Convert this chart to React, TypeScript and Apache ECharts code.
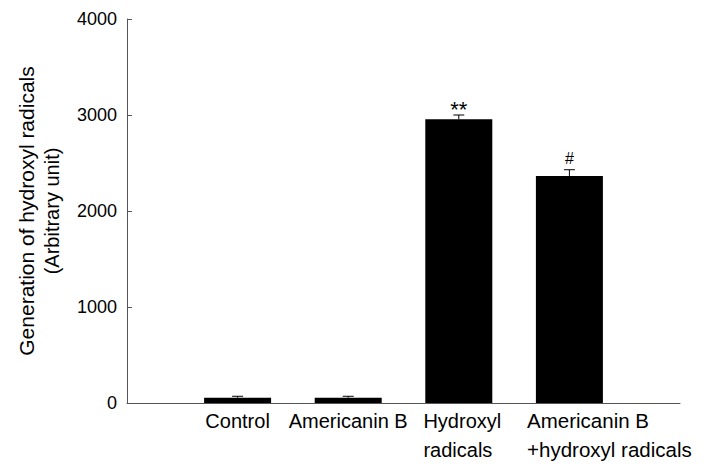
import React, { useEffect, useRef } from 'react';
import * as echarts from 'echarts';

const categories = ['', 'Control', 'Americanin B', 'Hydroxyl\nradicals', 'Americanin B\n+hydroxyl radicals', ''];
const means: (number | null)[] = [null, 55, 55, 2955, 2365, null];
const errors: (number | null)[] = [null, 15, 15, 45, 65, null];
const marks = ['', '', '', '**', '#', ''];
const yMin = 0;
const yMax = 4000;
const yInterval = 1000;
const yTitleLines = ['Generation of hydroxyl radicals', '(Arbitrary unit)'];

const FONT = "'Liberation Sans', Arial, Helvetica, sans-serif";

export default function App() {
  const ref = useRef<HTMLDivElement>(null);
  useEffect(() => {
    if (!ref.current) return;
    const chart = echarts.init(ref.current, undefined, { renderer: 'svg' });
    const barData = means.map((m) => (m == null ? '-' : m));
    const errData = means
      .map((m, i) => (m == null ? null : [i, m, errors[i] ?? 0]))
      .filter((d) => d !== null);
    const labelBase = { fontSize: 20, lineHeight: 29, fontFamily: FONT, color: '#000' };
    chart.setOption({
      animation: false,
      backgroundColor: '#fff',
      grid: { left: 127, right: 24, top: 19, bottom: 59 },
      xAxis: {
        type: 'category',
        data: categories,
        boundaryGap: false,
        axisLine: { lineStyle: { color: '#555', width: 1 } },
        axisTick: { show: false },
        axisLabel: {
          interval: 0,
          margin: 3,
          ...labelBase,
          formatter: (v: string, idx: number) => {
            if (!v.includes('\n')) return v;
            return v
              .split('\n')
              .map((s) => `{m${idx}|${s}}`)
              .join('\n');
          },
          rich: {
            m3: { ...labelBase, align: 'left', padding: [0, 0, 0, 7] },
            m4: { ...labelBase, fontSize: 20.5, align: 'left', padding: [0, 0, 0, 80] },
          },
        },
      },
      yAxis: {
        type: 'value',
        min: yMin,
        max: yMax,
        interval: yInterval,
        splitLine: { show: false },
        axisLine: { show: true, lineStyle: { color: '#555', width: 1 } },
        axisTick: { show: true, inside: true, length: 5, lineStyle: { color: '#555' } },
        axisLabel: {
          fontSize: 18,
          fontFamily: FONT,
          color: '#000',
          margin: 10,
          formatter: (v: number) => String(v),
        },
        name: `{a|${yTitleLines[0]}}\n{b|${yTitleLines[1]}}`,
        nameLocation: 'middle',
        nameRotate: 90,
        nameGap: 63,
        nameTextStyle: {
          fontSize: 20,
          lineHeight: 25,
          fontFamily: FONT,
          color: '#000',
          rich: {
            a: { fontSize: 21, lineHeight: 25, fontFamily: FONT, color: '#000' },
            b: { fontSize: 20, lineHeight: 25, fontFamily: FONT, color: '#000' },
          },
        },
      },
      series: [
        {
          type: 'bar',
          data: barData,
          barWidth: 67,
          itemStyle: { color: '#000' },
          z: 2,
        },
        {
          type: 'custom',
          data: errData,
          z: 3,
          renderItem: (params: any, api: any) => {
            const i = api.value(0);
            const m = api.value(1);
            const e = api.value(2);
            const top = api.coord([i, m]);
            const tip = api.coord([i, m + e]);
            const mark = marks[i];
            const children: any[] = [
              {
                type: 'line',
                shape: { x1: top[0], y1: top[1], x2: tip[0], y2: tip[1] },
                style: { stroke: '#000', lineWidth: 1 },
              },
              {
                type: 'line',
                shape: { x1: tip[0] - 5.5, y1: tip[1], x2: tip[0] + 5.5, y2: tip[1] },
                style: { stroke: '#000', lineWidth: 1 },
              },
            ];
            if (mark) {
              const star = mark.includes('*');
              children.push({
                type: 'text',
                x: tip[0],
                y: tip[1] - (star ? 6 : 11),
                style: {
                  text: mark,
                  fontSize: star ? 22 : 16,
                  fontFamily: FONT,
                  fill: '#000',
                  align: 'center',
                  verticalAlign: 'middle',
                },
              });
            }
            return { type: 'group', children };
          },
        },
      ],
    });
    return () => chart.dispose();
  }, []);
  return <div ref={ref} style={{ width: 704, height: 464, position: 'absolute', left: 0, top: 0 }} />;
}
